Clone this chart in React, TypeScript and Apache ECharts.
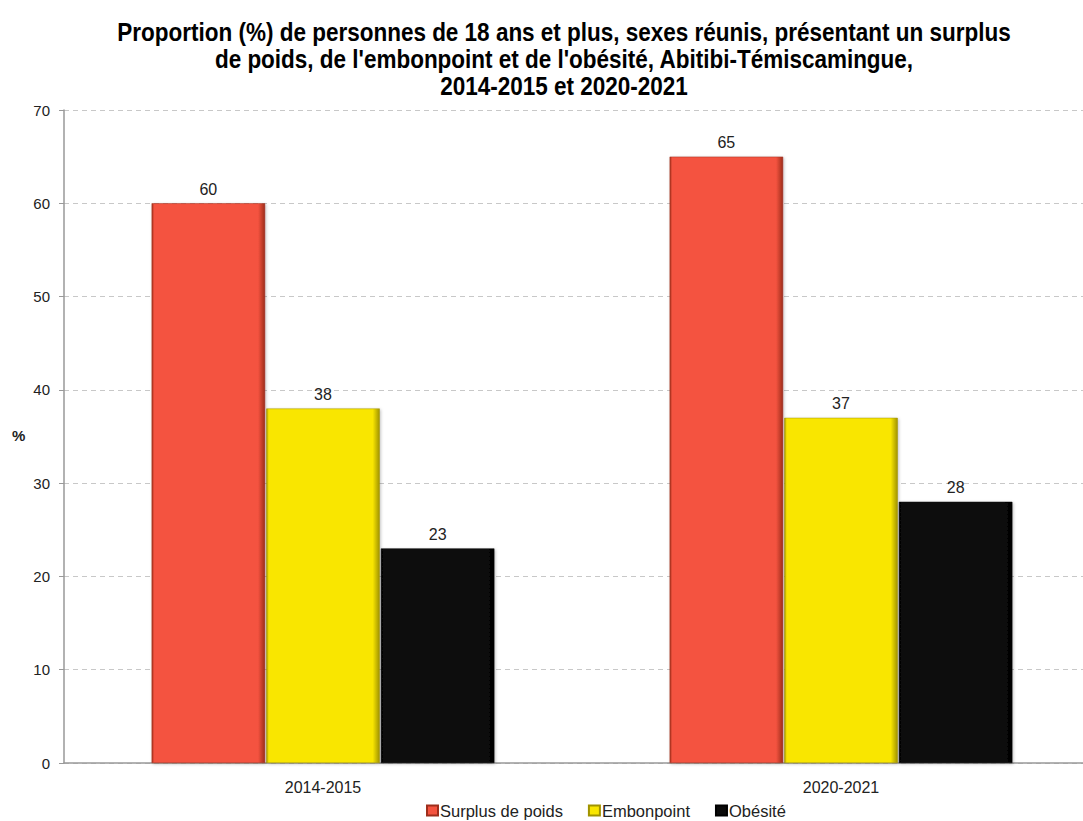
import React, { useEffect, useRef } from "react";
import * as echarts from "echarts";

const categories = ["2014-2015", "2020-2021"];
const seriesNames = ["Surplus de poids", "Embonpoint", "Obésité"];
const surplus = [60, 65];
const embonpoint = [38, 37];
const obesite = [23, 28];
const colors = ["#F4533F", "#F9E600", "#0A0A0A"];
const edgeColors = ["#9E2E1C", "#A09300", "#000000"];
const titleText =
  "Proportion (%) de personnes de 18 ans et plus, sexes réunis, présentant un surplus\nde poids, de l'embonpoint et de l'obésité, Abitibi-Témiscamingue,\n2014-2015 et 2020-2021";

export default function App() {
  const ref = useRef<HTMLDivElement>(null);
  useEffect(() => {
    if (!ref.current) return;
    const chart = echarts.init(ref.current, undefined, { renderer: "svg" });
    const values = [surplus, embonpoint, obesite];
    const font = "'Liberation Sans', Arial, sans-serif";
    chart.setOption({
      animation: false,
      backgroundColor: "#ffffff",
      textStyle: { fontFamily: font },
      grid: { left: 64, right: 0, top: 110, bottom: 58 },
      legend: {
        top: 802,
        left: 426,
        padding: 0,
        itemWidth: 11,
        itemHeight: 10,
        itemGap: 25,
        icon: "rect",
        textStyle: { fontFamily: font, fontSize: 16.5, color: "#222", padding: [0, 0, 0, -3] },
        data: seriesNames,
      },
      xAxis: {
        type: "category",
        data: categories,
        axisLine: { lineStyle: { color: "#999", width: 1.5 } },
        axisTick: { show: false },
        axisLabel: { fontFamily: font, fontSize: 16, color: "#222", margin: 16 },
      },
      yAxis: {
        type: "value",
        min: 0,
        max: 70,
        interval: 10,
        axisLine: { show: true, lineStyle: { color: "#999", width: 1.5 } },
        axisTick: { show: true, length: 5, lineStyle: { color: "#999" } },
        axisLabel: { fontFamily: font, fontSize: 15, color: "#222", margin: 14 },
        splitLine: { lineStyle: { color: "#c8c8c8", type: [5, 4] } },
      },
      graphic: [
        {
          type: "text",
          x: 564,
          y: 19,
          scaleX: 0.9,
          style: {
            text: titleText,
            fontFamily: font,
            fontSize: 25,
            fontWeight: "bold",
            fill: "#000",
            lineHeight: 27,
            align: "center",
            verticalAlign: "top",
          },
        },
        {
          type: "text",
          left: 12,
          top: 428,
          style: { text: "%", fontFamily: font, fontSize: 15, fontWeight: "bold", fill: "#222" },
        },
      ],
      series: seriesNames.map((name, i) => ({
        name,
        type: "bar",
        data: values[i],
        barWidth: 113.5,
        barGap: "1%",
        itemStyle: {
          color: new echarts.graphic.LinearGradient(0, 0, 1, 0, [
            { offset: 0, color: edgeColors[i] },
            { offset: 0.02, color: colors[i] },
            { offset: 0.94, color: colors[i] },
            { offset: 1, color: edgeColors[i] },
          ]),
          borderColor: edgeColors[i],
          borderWidth: 0.5,
          shadowColor: "rgba(0,0,0,0.25)",
          shadowBlur: 3,
          shadowOffsetX: 1,
          shadowOffsetY: 1,
        },
        label: {
          show: true,
          position: "top",
          distance: 6,
          fontFamily: font,
          fontSize: 16,
          color: "#222",
        },
      })),
      color: colors,
    });
    return () => chart.dispose();
  }, []);
  return (
    <div style={{ position: "fixed", left: 0, top: 0, width: 1083, height: 821, overflow: "hidden" }}>
      <div ref={ref} style={{ width: 1100, height: 821 }} />
    </div>
  );
}
